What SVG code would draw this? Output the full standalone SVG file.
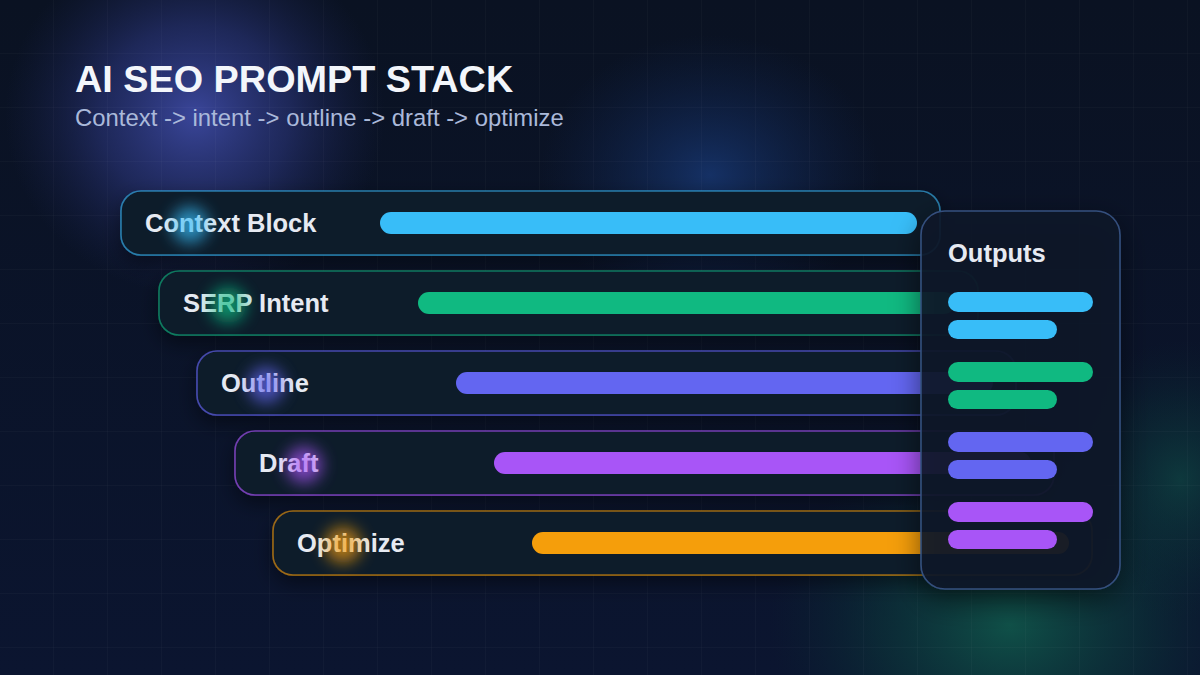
<svg xmlns="http://www.w3.org/2000/svg" width="1200" height="675" viewBox="0 0 1200 675">
  <defs>
    <linearGradient id="bg" x1="0" y1="0" x2="0" y2="1">
      <stop offset="0" stop-color="#0a1222"/>
      <stop offset="1" stop-color="#0b1530"/>
    </linearGradient>
    <radialGradient id="glowA" cx="0.5" cy="0.5" r="0.5">
      <stop offset="0" stop-color="#3a469a" stop-opacity="1"/>
      <stop offset="0.5" stop-color="#2b367c" stop-opacity="0.6"/>
      <stop offset="1" stop-color="#1c2556" stop-opacity="0"/>
    </radialGradient>
    <radialGradient id="glowB" cx="0.5" cy="0.5" r="0.5">
      <stop offset="0" stop-color="#173670" stop-opacity="0.85"/>
      <stop offset="1" stop-color="#102550" stop-opacity="0"/>
    </radialGradient>
    <radialGradient id="glowC" cx="0.5" cy="0.5" r="0.5">
      <stop offset="0" stop-color="#10544a" stop-opacity="0.95"/>
      <stop offset="0.55" stop-color="#0c3d3c" stop-opacity="0.5"/>
      <stop offset="1" stop-color="#0a2a33" stop-opacity="0"/>
    </radialGradient>
    <pattern id="grid" width="54" height="54" patternUnits="userSpaceOnUse">
      <path d="M54 0V54M0 54H54" fill="none" stroke="#ffffff" stroke-opacity="0.045" stroke-width="1"/>
    </pattern>
    <filter id="shadow" x="-20%" y="-50%" width="140%" height="200%">
      <feDropShadow dx="0" dy="8" stdDeviation="10" flood-color="#000000" flood-opacity="0.45"/>
    </filter>
    <filter id="pshadow" x="-40%" y="-20%" width="180%" height="140%">
      <feDropShadow dx="0" dy="10" stdDeviation="14" flood-color="#000000" flood-opacity="0.55"/>
    </filter>
    <filter id="blur" x="-100%" y="-100%" width="300%" height="300%">
      <feGaussianBlur stdDeviation="8"/>
    </filter>
    <style>
      .card { fill: #111a2c; stroke-width: 1.6; }
      .lbl { font-family: "Liberation Sans", Arial, sans-serif; font-weight: 700; font-size: 25.5px; fill: #e6eaf2; }
      .dot { opacity: 0.7; filter: url(#blur); }
    </style>
  </defs>

  <!-- background -->
  <rect width="1200" height="675" fill="url(#bg)"/>
  <ellipse cx="195" cy="115" rx="190" ry="180" fill="url(#glowA)"/>
  <ellipse cx="710" cy="175" rx="170" ry="140" fill="url(#glowB)"/>
  <ellipse cx="1010" cy="625" rx="240" ry="190" fill="url(#glowC)"/>
  <ellipse cx="1180" cy="480" rx="120" ry="140" fill="url(#glowC)" opacity="0.6"/>
  <rect width="1200" height="675" fill="url(#grid)"/>

  <!-- title -->
  <g id="title">
    <text x="75" y="92" font-family="'Liberation Sans', Arial, sans-serif" font-weight="700" font-size="37.8" fill="#f3f6fb">AI SEO PROMPT STACK</text>
    <text x="75" y="126" font-family="'Liberation Sans', Arial, sans-serif" font-size="23.9" fill="#aab9da">Context -&gt; intent -&gt; outline -&gt; draft -&gt; optimize</text>
  </g>

  <!-- cards -->
  <g id="card-context">
    <rect class="card" x="121" y="191" width="819" height="64" rx="20" stroke="#38bdf8" stroke-opacity="0.6" filter="url(#shadow)"/>
    <rect x="380" y="212" width="537" height="22" rx="11" fill="#38bdf8"/>
    <text class="lbl" x="145" y="232">Context Block</text>
    <circle class="dot" cx="190" cy="225" r="18" fill="#38bdf8"/>
  </g>
  <g id="card-serp">
    <rect class="card" x="159" y="271" width="819" height="64" rx="20" stroke="#10b981" stroke-opacity="0.6" filter="url(#shadow)"/>
    <rect x="418" y="292" width="537" height="22" rx="11" fill="#10b981"/>
    <text class="lbl" x="183" y="312">SERP Intent</text>
    <circle class="dot" cx="228" cy="305" r="18" fill="#10b981"/>
  </g>
  <g id="card-outline">
    <rect class="card" x="197" y="351" width="819" height="64" rx="20" stroke="#6366f1" stroke-opacity="0.65" filter="url(#shadow)"/>
    <rect x="456" y="372" width="537" height="22" rx="11" fill="#6366f1"/>
    <text class="lbl" x="221" y="392">Outline</text>
    <circle class="dot" cx="266" cy="385" r="18" fill="#6366f1"/>
  </g>
  <g id="card-draft">
    <rect class="card" x="235" y="431" width="819" height="64" rx="20" stroke="#a855f7" stroke-opacity="0.65" filter="url(#shadow)"/>
    <rect x="494" y="452" width="537" height="22" rx="11" fill="#a855f7"/>
    <text class="lbl" x="259" y="472">Draft</text>
    <circle class="dot" cx="304" cy="465" r="18" fill="#a855f7"/>
  </g>
  <g id="card-optimize">
    <rect class="card" x="273" y="511" width="819" height="64" rx="20" stroke="#f59e0b" stroke-opacity="0.6" filter="url(#shadow)"/>
    <rect x="532" y="532" width="537" height="22" rx="11" fill="#f59e0b"/>
    <text class="lbl" x="297" y="552">Optimize</text>
    <circle class="dot" cx="343" cy="545" r="18" fill="#f59e0b"/>
  </g>

  <!-- outputs panel -->
  <g id="outputs">
    <rect x="921" y="211" width="199" height="378" rx="24" fill="#0f1628" fill-opacity="0.9" stroke="#34507e" stroke-width="1.6" filter="url(#pshadow)"/>
    <text class="lbl" x="948" y="262" fill="#f3f6fb">Outputs</text>
    <rect x="948" y="292" width="145" height="20" rx="10" fill="#38bdf8"/>
    <rect x="948" y="320" width="109" height="19" rx="9.5" fill="#38bdf8"/>
    <rect x="948" y="362" width="145" height="20" rx="10" fill="#10b981"/>
    <rect x="948" y="390" width="109" height="19" rx="9.5" fill="#10b981"/>
    <rect x="948" y="432" width="145" height="20" rx="10" fill="#6366f1"/>
    <rect x="948" y="460" width="109" height="19" rx="9.5" fill="#6366f1"/>
    <rect x="948" y="502" width="145" height="20" rx="10" fill="#a855f7"/>
    <rect x="948" y="530" width="109" height="19" rx="9.5" fill="#a855f7"/>
  </g>

  <g id="connectors"/>
</svg>
